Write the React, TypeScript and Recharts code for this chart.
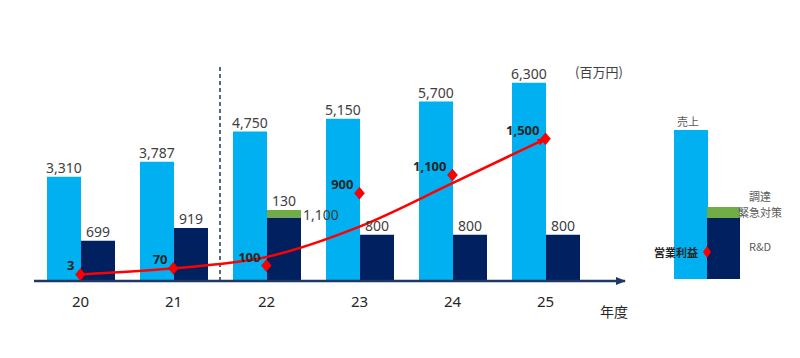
import React from 'react';
import { ComposedChart, Bar, Line, XAxis, YAxis, ReferenceLine, LabelList } from 'recharts';

const years = ['20', '21', '22', '23', '24', '25'];
const sales = [3310, 3787, 4750, 5150, 5700, 6300];
const rnd = [699, 919, 1100, 800, 800, 800];
const emergency = [0, 0, 130, 0, 0, 0];
const profit = [3, 70, 100, 900, 1100, 1500];
// red trend arrow drawn under the profit markers
const trend = [3, 70, 195, 530, 1010, 1500];

const data = years.map((year, i) => ({
  year,
  sales: sales[i],
  rnd: rnd[i],
  emergency: emergency[i],
  profit: profit[i],
  trend: trend[i],
}));

const LIGHT = '#00B0F0';
const NAVY = '#002060';
const GREEN = '#70AD47';
const RED = '#FF0000';
const AXIS = '#1F3864';
const TEXT = '#404040';
const FONT = '"Noto Sans", "Noto Sans CJK JP", sans-serif';
const JP = '"Noto Sans CJK JP", sans-serif';

const fmt = (v: number) => v.toLocaleString('en-US');

const segValue = (value: any) => (Array.isArray(value) ? value[1] - value[0] : Number(value));

const Diamond = (props: any) => {
  const { cx, cy, index } = props;
  if (cx == null || cy == null) return <g key={index} />;
  return (
    <polygon
      key={index}
      points={`${cx},${cy - 6} ${cx + 5},${cy} ${cx},${cy + 6} ${cx - 5},${cy}`}
      fill={RED}
      stroke="#C00000"
      strokeWidth={0.5}
    />
  );
};

const salesLabel = (props: any) => {
  const { x, y, width, value } = props;
  return (
    <text x={x + width / 2} y={y - 9} textAnchor="middle" dominantBaseline="central" fontSize={14} fill={TEXT} fontFamily={FONT}>
      {fmt(segValue(value))}
    </text>
  );
};

const rndLabel = (props: any) => {
  const { x, y, width, value, index } = props;
  const v = segValue(value);
  if (index === 2) {
    return (
      <text x={x + width + 2} y={y - 3} textAnchor="start" dominantBaseline="central" fontSize={14} fill={TEXT} fontFamily={FONT}>
        {fmt(v)}
      </text>
    );
  }
  return (
    <text x={x + width / 2} y={y - 9} textAnchor="middle" dominantBaseline="central" fontSize={14} fill={TEXT} fontFamily={FONT}>
      {fmt(v)}
    </text>
  );
};

const emergencyLabel = (props: any) => {
  const { x, y, width, value } = props;
  const v = segValue(value);
  if (!v) return null;
  return (
    <text x={x + width / 2} y={y - 9} textAnchor="middle" dominantBaseline="central" fontSize={14} fill={TEXT} fontFamily={FONT}>
      {fmt(v)}
    </text>
  );
};

const profitLabel = (props: any) => {
  const { x, y, value } = props;
  return (
    <text x={x - 6} y={y - 9} textAnchor="end" dominantBaseline="central" fontSize={13} fontWeight="bold" fill="#262626" fontFamily={FONT}>
      {fmt(Number(value))}
    </text>
  );
};

const Overlay = () => (
  <svg width={800} height={358} style={{ position: 'absolute', left: 0, top: 0, pointerEvents: 'none' }}>
    <text x={599} y={71} textAnchor="middle" dominantBaseline="central" fontSize={13} fill={TEXT} fontFamily={JP}>
      (百万円)
    </text>
    <g transform="translate(640,100)" fontFamily={JP}>
      <text x={48} y={21} textAnchor="middle" dominantBaseline="central" fontSize={11} fill="#595959">売上</text>
      <rect x={34} y={30} width={34} height={149} fill={LIGHT} />
      <rect x={67} y={107} width={33} height={11} fill={GREEN} />
      <rect x={67} y={118} width={33} height={61} fill={NAVY} />
      <polygon points="67,146 71,152 67,158 63,152" fill={RED} />
      <text x={58} y={152} textAnchor="end" dominantBaseline="central" fontSize={11} fontWeight="bold" fill="#262626">営業利益</text>
      <text x={120} y={96} textAnchor="middle" dominantBaseline="central" fontSize={11} fill="#595959">調達</text>
      <text x={120} y={112} textAnchor="middle" dominantBaseline="central" fontSize={11} fill="#595959">緊急対策</text>
      <text x={120} y={146} textAnchor="middle" dominantBaseline="central" fontSize={11} fill="#595959">R&amp;D</text>
    </g>
  </svg>
);

const App: React.FC = () => {
  return (
    <div style={{ position: 'absolute', left: 0, top: 0, width: 800, height: 358, background: '#fff', fontFamily: FONT }}>
      <svg width={0} height={0} style={{ position: 'absolute' }}>
        <defs>
          <marker id="axisArrow" viewBox="0 0 10 8" refX={9} refY={4} markerWidth={10} markerHeight={8} markerUnits="userSpaceOnUse" orient="auto">
            <path d="M0,0 L10,4 L0,8 Z" fill={AXIS} />
          </marker>
          <marker id="redArrow" viewBox="0 0 10 8" refX={9} refY={4} markerWidth={9} markerHeight={7} markerUnits="userSpaceOnUse" orient="auto">
            <path d="M0,0 L10,4 L0,8 Z" fill={RED} />
          </marker>
        </defs>
      </svg>
      <ComposedChart
        width={800}
        height={358}
        data={data}
        margin={{ top: 65, right: 175, bottom: 47, left: 34 }}
        barGap={0}
      >
        <XAxis
          dataKey="year"
          height={30}
          tickLine={false}
          axisLine={{ stroke: AXIS, strokeWidth: 2.5, markerEnd: 'url(#axisArrow)' }}
          tick={{ fontSize: 15, fill: '#262626', fontFamily: FONT }}
          tickMargin={9}
          padding={{ left: 0, right: 33 }}
          label={{ value: '年度', position: 'insideBottomRight', offset: 0, dx: 3, dy: 6, fontSize: 14, fill: '#262626', fontFamily: JP }}
        />
        <YAxis yAxisId="sales" hide domain={[0, 6860]} />
        <YAxis yAxisId="rd" hide domain={[0, 3740]} />
        <YAxis yAxisId="profit" hide domain={[-70, 2315]} />
        <ReferenceLine x="22" yAxisId="sales" position="start" stroke={AXIS} strokeDasharray="4 3" strokeWidth={1.5} />
        <Bar dataKey="sales" yAxisId="sales" stackId="a" fill={LIGHT} barSize={34} isAnimationActive={false}>
          <LabelList dataKey="sales" content={salesLabel} />
        </Bar>
        <Bar dataKey="rnd" yAxisId="rd" stackId="rd" fill={NAVY} barSize={34} isAnimationActive={false}>
          <LabelList dataKey="rnd" content={rndLabel} />
        </Bar>
        <Bar dataKey="emergency" yAxisId="rd" stackId="rd" fill={GREEN} barSize={34} isAnimationActive={false}>
          <LabelList dataKey="emergency" content={emergencyLabel} />
        </Bar>
        <Line
          dataKey="trend"
          yAxisId="profit"
          type="monotone"
          stroke={RED}
          strokeWidth={2.5}
          dot={false}
          activeDot={false}
          markerEnd="url(#redArrow)"
          isAnimationActive={false}
        />
        <Line
          dataKey="profit"
          yAxisId="profit"
          stroke="none"
          dot={(p: any) => <Diamond key={p.index} {...p} />}
          activeDot={false}
          isAnimationActive={false}
        >
          <LabelList dataKey="profit" content={profitLabel} />
        </Line>
      </ComposedChart>
      <Overlay />
    </div>
  );
};

export default App;
